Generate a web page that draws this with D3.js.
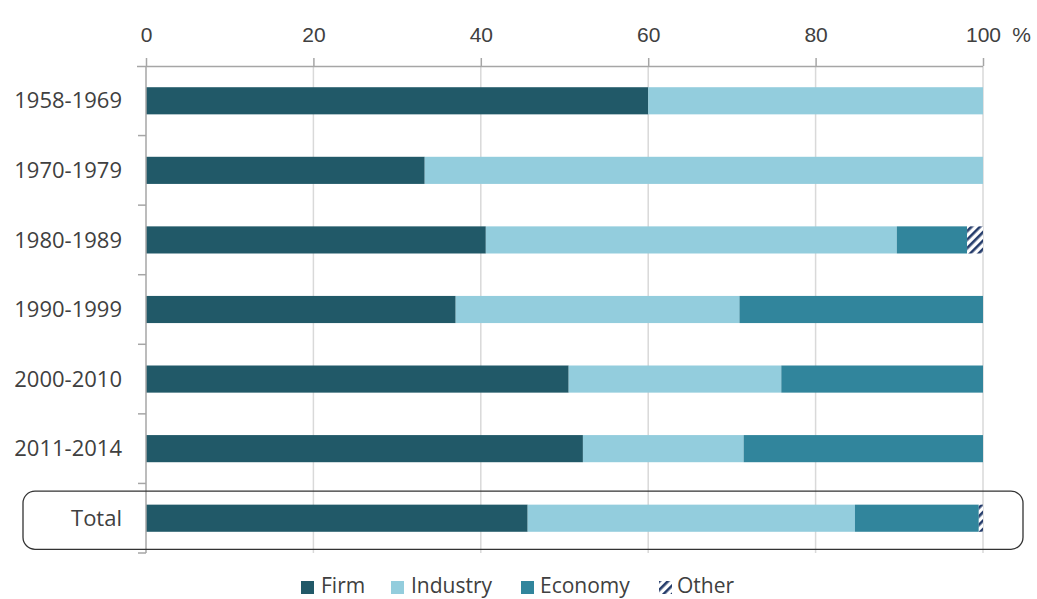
<!DOCTYPE html>
<html>
<head>
<meta charset="utf-8">
<script src="https://cdn.jsdelivr.net/npm/d3@7"></script>
<style>
  html, body { margin: 0; padding: 0; background: #fff; }
  svg { display: block; font-family: "Open Sans", "Noto Sans", sans-serif; }
</style>
</head>
<body>
<svg id="chart" width="1037" height="599"></svg>
<script>
// Share of each level (%) per period
const categories = ["1958-1969", "1970-1979", "1980-1989", "1990-1999", "2000-2010", "2011-2014", "Total"];
const seriesNames = ["Firm", "Industry", "Economy", "Other"];
const firm     = [60.0, 33.3, 40.6, 37.0, 50.5, 52.2, 45.6];
const industry = [40.0, 66.7, 49.1, 33.9, 25.4, 19.2, 39.1];
const economy  = [0.0,  0.0,  8.4,  29.1, 24.1, 28.6, 14.8];
const other    = [0.0,  0.0,  1.9,  0.0,  0.0,  0.0,  0.5];
const xTicks = [0, 20, 40, 60, 80, 100];
const colors = { Firm: "#215968", Industry: "#93cddd", Economy: "#31859c", Other: "url(#hatch)" };

const svg = d3.select("#chart");
const margin = { left: 146, right: 54, top: 66, bottom: 46 };
const W = 1037, H = 599;

const x = d3.scaleLinear().domain([0, 100]).range([margin.left, W - margin.right]);
const y = d3.scaleBand().domain(categories).range([margin.top, H - margin.bottom]).paddingInner(0.61).paddingOuter(0.305);

// Hatch pattern for "Other"
const defs = svg.append("defs");
const pat = defs.append("pattern").attr("id", "hatch").attr("patternUnits", "userSpaceOnUse")
  .attr("width", 6).attr("height", 6).attr("patternTransform", "rotate(45)");
pat.append("rect").attr("width", 6).attr("height", 6).attr("fill", "#fff");
pat.append("rect").attr("x", 0).attr("width", 2.6).attr("height", 6).attr("fill", "#253c6b");

// Gridlines
svg.append("g").selectAll("line").data(xTicks.filter(d => d > 0)).join("line")
  .attr("x1", d => x(d)).attr("x2", d => x(d))
  .attr("y1", margin.top).attr("y2", H - margin.bottom)
  .attr("stroke", "#d9d9d9").attr("stroke-width", 1.5);

// Stacked bars
const rows = categories.map((c, i) => ({ cat: c, Firm: firm[i], Industry: industry[i], Economy: economy[i], Other: other[i] }));
const stacked = d3.stack().keys(seriesNames)(rows);
svg.append("g").selectAll("g").data(stacked).join("g")
  .attr("fill", d => colors[d.key])
  .selectAll("rect").data(d => d.filter(p => p[1] - p[0] > 0)).join("rect")
  .attr("x", p => x(p[0])).attr("width", p => x(p[1]) - x(p[0]))
  .attr("y", p => y(p.data.cat)).attr("height", y.bandwidth());

// Top value axis
const xAxis = d3.axisTop(x).tickValues(xTicks).tickSize(8).tickPadding(16).tickFormat(d => d);
const gx = svg.append("g").attr("transform", `translate(0,${margin.top})`).call(xAxis);
gx.select(".domain").attr("stroke", "#a6a6a6").attr("stroke-width", 1.5)
  .attr("d", `M${margin.left - 9},0.5H${x(100)}`);
gx.selectAll(".tick line").attr("stroke", "#a6a6a6").attr("stroke-width", 1.5);
gx.selectAll(".tick text").attr("fill", "#404040").attr("font-size", 21);
gx.append("text").attr("x", x(100) + 48).attr("y", -24).attr("fill", "#404040")
  .attr("font-size", 21).attr("text-anchor", "end").text("%");

// Left category axis with ticks at band boundaries
const gy = svg.append("g");
gy.append("line").attr("x1", margin.left).attr("x2", margin.left)
  .attr("y1", margin.top).attr("y2", H - margin.bottom)
  .attr("stroke", "#a6a6a6").attr("stroke-width", 1.5);
const bounds = categories.map(c => y(c) - y.step() * y.paddingInner() / 2).concat([H - margin.bottom]).slice(1);
gy.selectAll("line.tk").data(bounds).join("line").attr("class", "tk")
  .attr("x1", margin.left - 8).attr("x2", margin.left).attr("y1", d => d).attr("y2", d => d)
  .attr("stroke", "#a6a6a6").attr("stroke-width", 1.5);
gy.selectAll("text").data(categories).join("text")
  .attr("x", margin.left - 24).attr("y", d => y(d) + y.bandwidth() / 2)
  .attr("dy", "0.35em").attr("text-anchor", "end").attr("fill", "#404040")
  .attr("font-size", 22).text(d => d);

// Highlight frame around the total row
const tY = y("Total");
svg.append("rect").attr("x", 23).attr("y", tY - 13.5).attr("width", 1000).attr("height", y.bandwidth() + 31)
  .attr("rx", 12).attr("ry", 12).attr("fill", "none").attr("stroke", "#333").attr("stroke-width", 1.3);

// Legend
const legendItems = [
  { key: "Firm", sx: 301, tx: 321 },
  { key: "Industry", sx: 391, tx: 411 },
  { key: "Economy", sx: 521, tx: 540 },
  { key: "Other", sx: 659, tx: 677 }
];
const lg = svg.append("g");
legendItems.forEach(it => {
  lg.append("rect").attr("x", it.sx).attr("y", 581).attr("width", 13).attr("height", 13)
    .attr("fill", colors[it.key]);
  lg.append("text").attr("x", it.tx).attr("y", 593)
    .attr("fill", "#404040").attr("font-size", 21).text(it.key);
});
</script>
</body>
</html>
